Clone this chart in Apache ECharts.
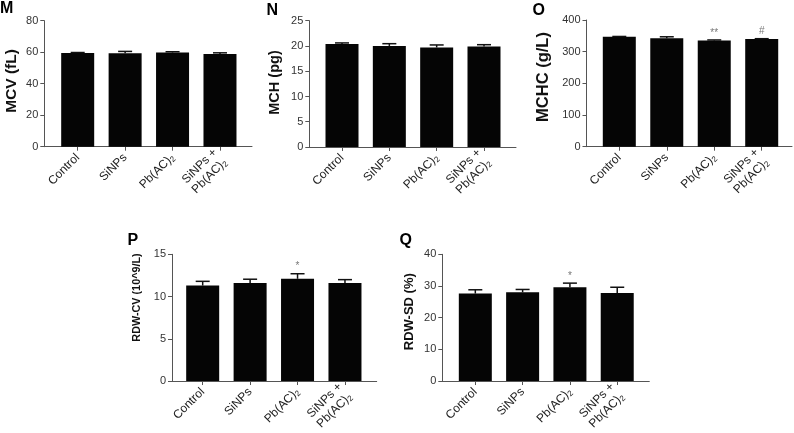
<!DOCTYPE html>
<html>
<head>
<meta charset="utf-8">
<script src="https://cdn.jsdelivr.net/npm/echarts@6/dist/echarts.min.js"></script>
<style>
html,body{margin:0;padding:0;background:#fff;}
#c{width:794px;height:433px;}
</style>
</head>
<body>
<div id="c"></div>
<script>
// ---- data ----
const categories = ['Control', 'SiNPs', 'Pb(AC)2', 'SiNPs + Pb(AC)2'];

const mcvMean = [59.5, 59.3, 59.8, 58.9];
const mcvErr = [0.3, 1.2, 0.5, 0.7];
const mcvTicks = [0, 20, 40, 60, 80];
const mcvMarks = ['', '', '', ''];

const mchMean = [20.4, 20.0, 19.7, 19.9];
const mchErr = [0.2, 0.45, 0.5, 0.35];
const mchTicks = [0, 5, 10, 15, 20, 25];
const mchMarks = ['', '', '', ''];

const mchcMean = [347, 342, 335, 340];
const mchcErr = [1, 5, 2, 1];
const mchcTicks = [0, 100, 200, 300, 400];
const mchcMarks = ['', '', '**', '#'];

const rdwcvMean = [11.3, 11.6, 12.1, 11.6];
const rdwcvErr = [0.5, 0.45, 0.6, 0.4];
const rdwcvTicks = [0, 5, 10, 15];
const rdwcvMarks = ['', '', '*', ''];

const rdwsdMean = [27.6, 28.0, 29.6, 27.8];
const rdwsdErr = [1.2, 0.9, 1.3, 1.8];
const rdwsdTicks = [0, 10, 20, 30, 40];
const rdwsdMarks = ['', '', '*', ''];

const panelLetters = ['M', 'N', 'O', 'P', 'Q'];
const yTitles = ['MCV (fL)', 'MCH (pg)', 'MCHC (g/L)', 'RDW-CV (10^9/L)', 'RDW-SD (%)'];

// ---- layout (positions/styles only) ----
const FONT = '"Liberation Sans", Arial, Helvetica, sans-serif';
const layouts = [
  {left: 44.3, right: 252, top: 20.7, bottom: 146.7, xmin: -0.704, xmax: 3.675,
   title: {x: 11.5, y: 81, size: 15.5}, letter: {x: 0, y: 1}},
  {left: 309.3, right: 516, top: 20.7, bottom: 147, xmin: -0.691, xmax: 3.676,
   title: {x: 275, y: 82.5, size: 14.5}, letter: {x: 266.5, y: 2.5}},
  {left: 586.5, right: 792, top: 20, bottom: 146.7, xmin: -0.691, xmax: 3.638,
   title: {x: 543, y: 77, size: 16.5}, letter: {x: 532.5, y: 2.5}},
  {left: 172, right: 376.7, top: 254.3, bottom: 382, xmin: -0.647, xmax: 3.669,
   title: {x: 137, y: 297.5, size: 10.8}, letter: {x: 127.5, y: 232.5}},
  {left: 442.3, right: 649.3, top: 254.3, bottom: 382.3, xmin: -0.698, xmax: 3.678,
   title: {x: 409, y: 311.7, size: 13}, letter: {x: 399.5, y: 232.5}}
];
const panelData = [
  {mean: mcvMean, err: mcvErr, ticks: mcvTicks, marks: mcvMarks},
  {mean: mchMean, err: mchErr, ticks: mchTicks, marks: mchMarks},
  {mean: mchcMean, err: mchcErr, ticks: mchcTicks, marks: mchcMarks},
  {mean: rdwcvMean, err: rdwcvErr, ticks: rdwcvTicks, marks: rdwcvMarks},
  {mean: rdwsdMean, err: rdwsdErr, ticks: rdwsdTicks, marks: rdwsdMarks}
];

const W = 794, H = 433;
const grids = [], xAxes = [], yAxes = [], series = [], graphics = [];
const catIdx = categories.map((c, i) => i);

function catLabel(v) {
  const i = Math.round(v);
  const name = categories[i];
  if (name === 'SiNPs + Pb(AC)2') return 'SiNPs +\nPb(AC){sub|2}';
  if (name === 'Pb(AC)2') return 'Pb(AC){sub|2}';
  return name;
}

layouts.forEach((L, k) => {
  const P = panelData[k];
  grids.push({left: L.left, top: L.top, width: L.right - L.left, height: L.bottom - L.top});
  xAxes.push({
    type: 'value', gridIndex: k, min: L.xmin, max: L.xmax,
    splitLine: {show: false},
    axisLine: {show: true, onZero: false, lineStyle: {color: '#555', width: 1}},
    axisTick: {show: true, customValues: catIdx, length: 4, lineStyle: {color: '#555'}},
    axisLabel: {
      customValues: catIdx, rotate: 45, margin: 9, formatter: catLabel,
      color: '#222', fontSize: 12, fontFamily: FONT, lineHeight: 14,
      rich: {sub: {fontSize: 8, fontFamily: FONT, color: '#222', verticalAlign: 'bottom', lineHeight: 10}}
    }
  });
  const t = P.ticks;
  yAxes.push({
    type: 'value', gridIndex: k, min: t[0], max: t[t.length - 1], interval: t[1] - t[0],
    splitLine: {show: false},
    axisLine: {show: true, onZero: false, lineStyle: {color: '#555', width: 1}},
    axisTick: {show: true, length: 4, lineStyle: {color: '#555'}},
    axisLabel: {margin: 6, color: '#333', fontSize: 11, fontFamily: FONT}
  });
  series.push({
    type: 'bar', xAxisIndex: k, yAxisIndex: k, barWidth: 33,
    itemStyle: {color: '#050505'},
    data: P.mean.map((m, i) => [i, m]),
    animation: false, z: 2
  });
  series.push({
    type: 'custom', xAxisIndex: k, yAxisIndex: k, z: 3, animation: false,
    data: P.mean.map((m, i) => [i, m + P.err[i]]),
    renderItem: (params, api) => {
      const i = params.dataIndex;
      const m = P.mean[i], e = P.err[i];
      const top = api.coord([i, m + e]);
      const base = api.coord([i, m]);
      const children = [
        {type: 'line', shape: {x1: top[0], y1: base[1], x2: top[0], y2: top[1]}, style: {stroke: '#111', lineWidth: 1.5}},
        {type: 'line', shape: {x1: top[0] - 7, y1: top[1], x2: top[0] + 7, y2: top[1]}, style: {stroke: '#111', lineWidth: 1.5}}
      ];
      const mk = P.marks[i];
      if (mk) {
        children.push({type: 'text', x: top[0], y: top[1] - 2,
          style: {text: mk, fill: '#777', font: '10px ' + FONT, align: 'center', verticalAlign: 'bottom'}});
      }
      return {type: 'group', children};
    }
  });
  graphics.push({
    type: 'text', x: L.title.x, y: L.title.y, rotation: Math.PI / 2,
    style: {text: yTitles[k], fill: '#111', font: 'bold ' + L.title.size + 'px ' + FONT, align: 'center', verticalAlign: 'middle'}
  });
  graphics.push({
    type: 'text', x: L.letter.x, y: L.letter.y,
    style: {text: panelLetters[k], fill: '#000', font: 'bold 16px ' + FONT, align: 'left', verticalAlign: 'top'}
  });
});

const chart = echarts.init(document.getElementById('c'), null, {renderer: 'canvas', width: W, height: H});
chart.setOption({
  backgroundColor: '#fff',
  animation: false,
  grid: grids, xAxis: xAxes, yAxis: yAxes, series: series, graphic: graphics
});
</script>
</body>
</html>
